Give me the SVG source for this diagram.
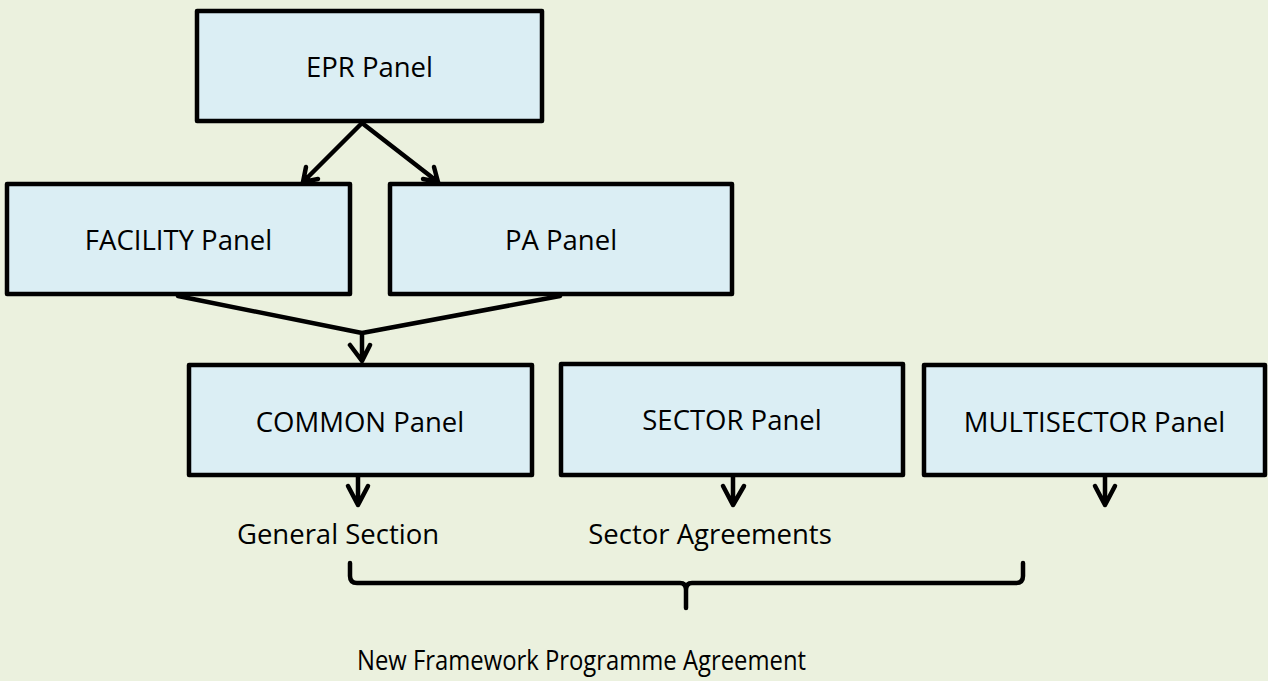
<svg xmlns="http://www.w3.org/2000/svg" width="1268" height="681" viewBox="0 0 1268 681">
<style>
.box{fill:#DBEEF4;stroke:#000;stroke-width:4.5;stroke-linejoin:round}
.lbl{font-family:"Open Sans","Liberation Sans",sans-serif;font-size:27.5px;fill:#000;text-anchor:middle}
.ln{fill:none;stroke:#000;stroke-width:4.5;stroke-linecap:round;stroke-linejoin:round}
</style>
<rect width="1268" height="681" fill="#EBF1DE"/>
<g id="epr"><rect class="box" x="197" y="11" width="345" height="110"/><text class="lbl" x="369.5" y="77">EPR Panel</text></g>
<g id="facility"><rect class="box" x="7" y="184" width="343" height="110"/><text class="lbl" x="178.5" y="250">FACILITY Panel</text></g>
<g id="pa"><rect class="box" x="390" y="184" width="342" height="110"/><text class="lbl" x="561" y="250">PA Panel</text></g>
<g id="common"><rect class="box" x="189" y="365" width="343" height="110"/><text class="lbl" x="360" y="432">COMMON Panel</text></g>
<g id="sector"><rect class="box" x="561" y="364" width="342" height="111"/><text class="lbl" x="732" y="430">SECTOR Panel</text></g>
<g id="multisector"><rect class="box" x="924" y="365" width="341" height="110"/><text class="lbl" x="1094.5" y="432">MULTISECTOR Panel</text></g>
<g id="connectors">
<path class="ln" d="M362 123 L303 182 M303 182 L306 167 M303 182 L318 179"/>
<path class="ln" d="M362 123 L438 182 M438 182 L423 179 M438 182 L434 167"/>
<path class="ln" d="M178 296 L362 333 L560 296 M362 333 L362 361 M350 345 L362 361 L370 345"/>
<path class="ln" d="M358 477 L358 505 M348 486 L358 505 L368 486"/>
<path class="ln" d="M733 477 L733 505 M723 486 L733 505 L744 486"/>
<path class="ln" d="M1105 477 L1105 505 M1095 486 L1105 505 L1115 486"/>
</g>
<g id="general-section"><text class="lbl" x="338" y="544">General Section</text></g>
<g id="sector-agreements"><text class="lbl" x="710" y="544">Sector Agreements</text></g>
<g id="brace"><path class="ln" d="M350 563 L350 576 Q350 583 357 583 L680 583 Q686 583 686 590 L686 608 M686 590 Q686 583 692 583 L1016 583 Q1023 583 1023 576 L1023 563"/></g>
<g id="nfpa"><text class="lbl" x="581.5" y="670" textLength="449" lengthAdjust="spacingAndGlyphs">New Framework Programme Agreement</text></g>
</svg>
